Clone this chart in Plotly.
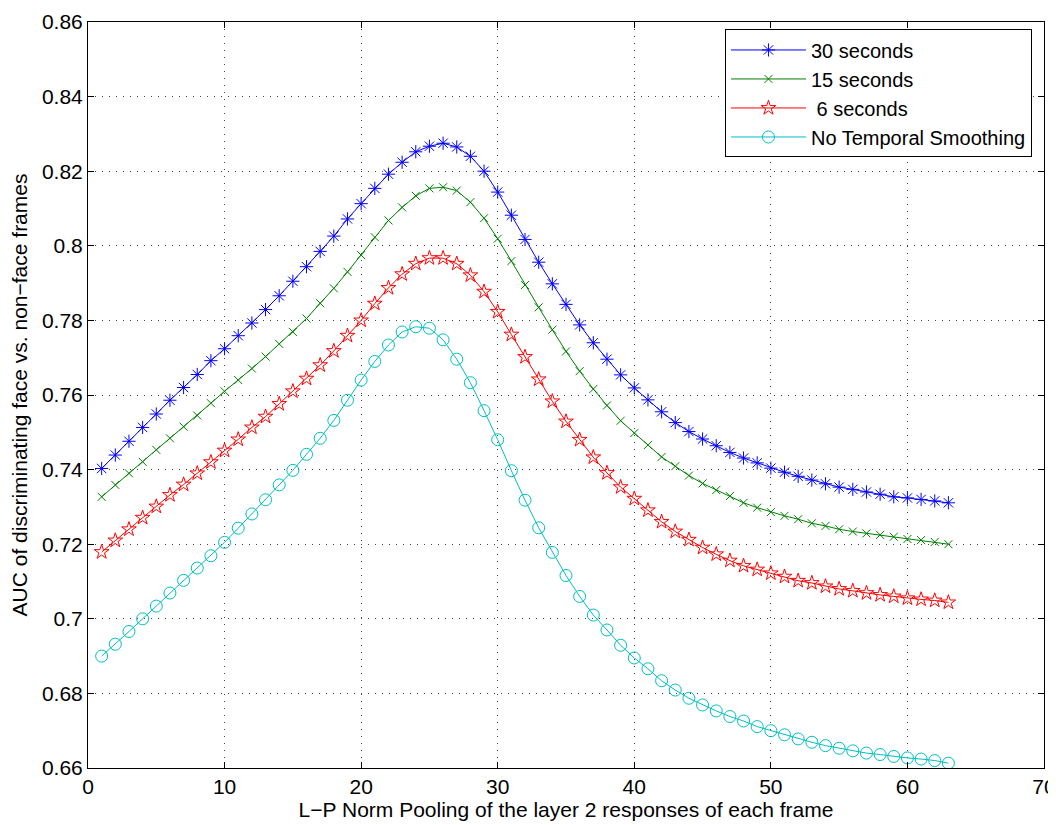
import plotly.graph_objects as go

x_vals = list(range(1, 64))

auc_30s = [0.7403, 0.7439, 0.7476, 0.7513, 0.7549, 0.7586, 0.7620, 0.7655, 0.7692, 0.7724,
           0.7759, 0.7793, 0.7829, 0.7866, 0.7905, 0.7944, 0.7985, 0.8026, 0.8072, 0.8113,
           0.8154, 0.8192, 0.8224, 0.8252, 0.8267, 0.8275, 0.8265, 0.8240, 0.8200, 0.8144,
           0.8082, 0.8017, 0.7956, 0.7898, 0.7843, 0.7788, 0.7740, 0.7696, 0.7654, 0.7619,
           0.7587, 0.7555, 0.7526, 0.7502, 0.7482, 0.7464, 0.7446, 0.7431, 0.7418, 0.7404,
           0.7393, 0.7382, 0.7372, 0.7362, 0.7353, 0.7347, 0.7340, 0.7334, 0.7327, 0.7324,
           0.7320, 0.7316, 0.7311]

auc_15s = [0.7327, 0.7359, 0.7390, 0.7421, 0.7453, 0.7484, 0.7515, 0.7545, 0.7578, 0.7610,
           0.7640, 0.7671, 0.7703, 0.7737, 0.7769, 0.7805, 0.7846, 0.7886, 0.7930, 0.7975,
           0.8023, 0.8068, 0.8103, 0.8134, 0.8154, 0.8157, 0.8148, 0.8117, 0.8074, 0.8019,
           0.7959, 0.7895, 0.7835, 0.7775, 0.7717, 0.7664, 0.7616, 0.7572, 0.7531, 0.7498,
           0.7466, 0.7434, 0.7409, 0.7384, 0.7363, 0.7345, 0.7329, 0.7311, 0.7298, 0.7286,
           0.7276, 0.7267, 0.7256, 0.7249, 0.7240, 0.7234, 0.7229, 0.7225, 0.7220, 0.7214,
           0.7211, 0.7206, 0.7200]

auc_6s = [0.7179, 0.7210, 0.7240, 0.7271, 0.7301, 0.7332, 0.7360, 0.7390, 0.7420, 0.7451,
          0.7481, 0.7513, 0.7542, 0.7576, 0.7610, 0.7644, 0.7680, 0.7718, 0.7759, 0.7800,
          0.7845, 0.7887, 0.7924, 0.7952, 0.7967, 0.7967, 0.7952, 0.7921, 0.7877, 0.7823,
          0.7762, 0.7702, 0.7642, 0.7583, 0.7529, 0.7480, 0.7433, 0.7391, 0.7353, 0.7322,
          0.7291, 0.7260, 0.7234, 0.7212, 0.7191, 0.7173, 0.7156, 0.7142, 0.7132, 0.7122,
          0.7113, 0.7102, 0.7096, 0.7087, 0.7080, 0.7075, 0.7069, 0.7064, 0.7060, 0.7055,
          0.7052, 0.7049, 0.7044]

auc_none = [0.6900, 0.6932, 0.6966, 0.7000, 0.7034, 0.7069, 0.7103, 0.7136, 0.7169, 0.7205,
            0.7243, 0.7281, 0.7319, 0.7359, 0.7398, 0.7441, 0.7484, 0.7532, 0.7586, 0.7640,
            0.7690, 0.7734, 0.7769, 0.7783, 0.7779, 0.7748, 0.7696, 0.7633, 0.7558, 0.7480,
            0.7397, 0.7318, 0.7244, 0.7178, 0.7116, 0.7060, 0.7010, 0.6970, 0.6929, 0.6895,
            0.6866, 0.6834, 0.6809, 0.6787, 0.6769, 0.6753, 0.6738, 0.6726, 0.6711, 0.6700,
            0.6689, 0.6678, 0.6669, 0.6660, 0.6653, 0.6646, 0.6640, 0.6636, 0.6631, 0.6627,
            0.6624, 0.6620, 0.6613]

y_ticks = [0.66, 0.68, 0.70, 0.72, 0.74, 0.76, 0.78, 0.80, 0.82, 0.84, 0.86]
y_labels = ["0.66", "0.68", "0.7", "0.72", "0.74", "0.76", "0.78", "0.8", "0.82", "0.84", "0.86"]

series = [
    ("30 seconds", auc_30s, "#0000ff", "asterisk-open", 11),
    ("15 seconds", auc_15s, "#008000", "x-thin-open", 8),
    (" 6 seconds", auc_6s, "#ff0000", "star-open", 11),
    ("No Temporal Smoothing", auc_none, "#00bfbf", "circle-open", 12),
]

fig = go.Figure()
for name, vals, color, sym, size in series:
    fig.add_trace(go.Scatter(
        x=x_vals, y=vals, name=name, mode="lines+markers",
        line=dict(color=color, width=1),
        marker=dict(symbol=sym, size=size, color=color, line=dict(color=color, width=1)),
    ))

axis_style = dict(
    showline=True, linecolor="black", linewidth=1, mirror="ticks",
    ticks="inside", ticklen=6, tickcolor="black",
    showgrid=True, gridcolor="#444444", gridwidth=1, griddash="1px,6px",
    zeroline=False, tickfont=dict(size=21, color="black"), automargin=False,
    ticklabeloverflow="allow",
)

fig.update_xaxes(range=[0, 70], dtick=10, tick0=0,
                 title=dict(text="L\u2212P Norm Pooling of the layer 2 responses of each frame",
                            font=dict(size=21, color="black"), standoff=0),
                 **axis_style)
fig.update_yaxes(range=[0.66, 0.86], tickvals=y_ticks, ticktext=y_labels,
                 title=dict(text="AUC of discriminating face vs. non\u2212face frames",
                            font=dict(size=21, color="black"), standoff=13),
                 **axis_style)

# page body adds an 8px offset, margins are set so the axes land where the reference has them
fig.update_layout(
    width=1056, height=825,
    margin=dict(l=80, r=20, t=14, b=65),
    plot_bgcolor="white", paper_bgcolor="white",
    font=dict(family="Liberation Sans, Arial, sans-serif", color="black"),
    legend=dict(x=0.9874, y=0.99, xanchor="right", yanchor="top",
                bgcolor="white", bordercolor="black", borderwidth=1,
                font=dict(size=20), tracegroupgap=0, itemwidth=75),
)

fig.write_html("out.html")
